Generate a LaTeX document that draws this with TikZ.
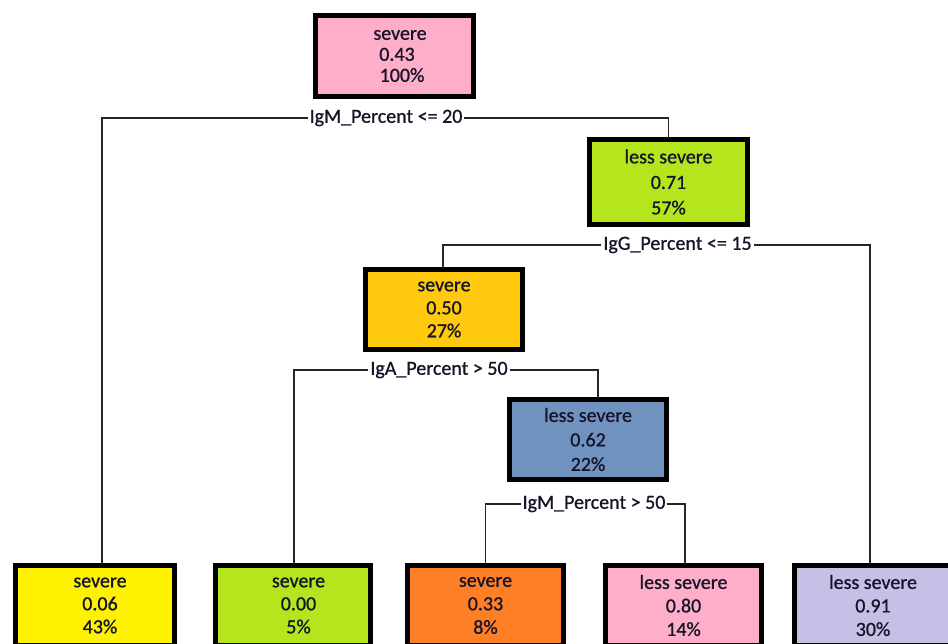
\documentclass[tikz,border=0pt]{standalone}
\usepackage{fontspec}
% regular Carlito widths, drawn slightly heavier
\setmainfont{Carlito}[BoldFont=Carlito, BoldFeatures={FakeBold=0.9}]
\definecolor{nodepink}{HTML}{FFAEC9}
\definecolor{nodelime}{HTML}{B5E61D}
\definecolor{nodegold}{HTML}{FFC90E}
\definecolor{nodesteel}{HTML}{7092BE}
\definecolor{nodeyellow}{HTML}{FFF200}
\definecolor{nodeorange}{HTML}{FF7F27}
\definecolor{nodelavender}{HTML}{C8BFE7}
\definecolor{inktext}{HTML}{15152A}
\begin{document}
\begin{tikzpicture}[x=1pt,y=-1pt,
  tbox/.style={draw=black, line width=5pt, rectangle, align=center,
    inner sep=0pt, minimum width=157pt, minimum height=80pt, text=inktext,
    font=\fontsize{20}{#1}\selectfont\bfseries},
  tbox/.default=23,
  cond/.style={font=\fontsize{20}{24}\selectfont\bfseries, inner sep=2.5pt, text=inktext},
  branch/.style={line width=1.6pt, draw=black!85, line cap=rect}
]
\clip (0,0) rectangle (948,644);
\fill[white] (0,0) rectangle (948,644);

% tree nodes
\node[tbox=21, fill=nodepink, minimum width=158pt, minimum height=81pt] (root) at (394.5,56) {\hspace*{11pt}severe\\\hspace*{5pt}0.43\\\hspace*{15pt}100\%};
\node[tbox=25.5, fill=nodelime, minimum width=158pt, minimum height=85pt] (n2) at (668.5,182) {less severe\\0.71\\57\%};
\node[tbox=23, fill=nodegold] (n3) at (444,309.5) {severe\\0.50\\27\%};
\node[tbox=24.5, fill=nodesteel] (n4) at (588,439.5) {less severe\\0.62\\22\%};

% leaves
\node[tbox=23, fill=nodeyellow, minimum width=159pt] (l1) at (95,605.5) {\hspace*{10pt}severe\\\hspace*{10pt}0.06\\\hspace*{10pt}43\%};
\node[tbox=23, fill=nodelime, minimum width=155pt] (l2) at (293,605.5) {\hspace*{11pt}severe\\\hspace*{11pt}0.00\\\hspace*{11pt}5\%};
\node[tbox=23.5, fill=nodeorange, minimum width=156pt] (l3) at (485.5,605.5) {severe\\0.33\\8\%};
\node[tbox=23.5, fill=nodepink, minimum width=156pt] (l4) at (683.5,605.5) {less severe\\0.80\\14\%};
\node[tbox=23.5, fill=nodelavender, minimum width=157pt] (l5) at (873,605.5) {less severe\\0.91\\30\%};

% split conditions
\node[cond] (s1) at (386,118) {IgM\_Percent <= 20};
\node[cond] (s2) at (677.5,245) {IgG\_Percent <= 15};
\node[cond] (s3) at (439,370) {IgA\_Percent > 50};
\node[cond] (s4) at (594,504) {IgM\_Percent > 50};

% branches
\draw[branch] (s1.west) -| ([xshift=7pt]l1.north);
\draw[branch] (s1.east) -| (n2.north);
\draw[branch] (s2.west) -| ([xshift=-1pt]n3.north);
\draw[branch] (s2.east) -| ([xshift=-3pt]l5.north);
\draw[branch] (s3.west) -| ([xshift=1pt]l2.north);
\draw[branch] (s3.east) -| ([xshift=10pt]n4.north);
\draw[branch] (s4.west) -| (l3.north);
\draw[branch] (s4.east) -| ([xshift=1.5pt]l4.north);
\end{tikzpicture}
\end{document}
